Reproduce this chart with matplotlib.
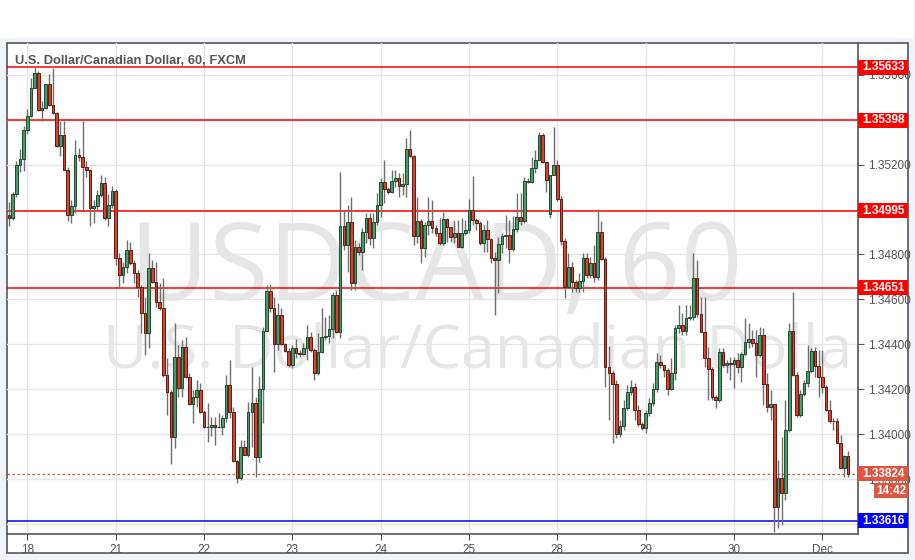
import numpy as np
import matplotlib
matplotlib.use('Agg')
import matplotlib.pyplot as plt
from matplotlib.patches import Rectangle
from matplotlib.transforms import blended_transform_factory

# ── DATA: USD/CAD hourly candles, first candle = Nov 17 19:00 ────────────────
opens = [
    1.34976, 1.34961, 1.35067, 1.35199, 1.35223,
    1.35354, 1.35417, 1.35539, 1.35608, 1.35442, 1.35451, 1.35557, 1.35465, 1.35429, 1.35283, 1.35332, 1.35177,
    1.34974, 1.35016, 1.35243, 1.35233, 1.35189, 1.35174, 1.35005, 1.35016, 1.35064, 1.35120, 1.34961, 1.35019,
    1.35082, 1.34783, 1.34708, 1.34745, 1.34820, 1.34763, 1.34719, 1.34656, 1.34538, 1.34452, 1.34738, 1.34678,
    1.34587, 1.34560, 1.34263, 1.34189, 1.33986, 1.34342, 1.34204, 1.34389, 1.34256, 1.34133, 1.34164, 1.34197,
    1.34100, 1.34030, 1.34033, 1.34041, 1.34033, 1.34030, 1.34070, 1.34219, 1.34100, 1.33882, 1.33804, 1.33944,
    1.33907, 1.34100, 1.34140, 1.33900, 1.34200, 1.34459, 1.34637, 1.34560, 1.34401, 1.34530, 1.34401, 1.34370,
    1.34308, 1.34382, 1.34363, 1.34355, 1.34382, 1.34431, 1.34375, 1.34271, 1.34364, 1.34434, 1.34437, 1.34469,
    1.34619, 1.34456, 1.34925, 1.34842, 1.34945, 1.34671, 1.34834, 1.34809, 1.34901, 1.34962, 1.34872, 1.34944,
    1.35020, 1.35121, 1.35091, 1.35076, 1.35127, 1.35139, 1.35106, 1.35113, 1.35269, 1.35239, 1.34883, 1.34949,
    1.34827, 1.34931, 1.34949, 1.34916, 1.34894, 1.34849, 1.34958, 1.34924, 1.34879, 1.34897, 1.34834, 1.34894,
    1.34909, 1.34998, 1.34953, 1.34941, 1.34849, 1.34909, 1.34867, 1.34783, 1.34775, 1.34846, 1.34882, 1.34887,
    1.34823, 1.34912, 1.34968, 1.34950, 1.35128, 1.35124, 1.35183, 1.35220, 1.35331, 1.35212, 1.34978, 1.35153,
    1.35198, 1.35045, 1.34861, 1.34656, 1.34743, 1.34678, 1.34649, 1.34682, 1.34783, 1.34708, 1.34760, 1.34701,
    1.34898, 1.34778, 1.34300, 1.34271, 1.34222, 1.34000, 1.34036, 1.34115, 1.34189, 1.34211, 1.34108, 1.34044,
    1.34026, 1.34093, 1.34137, 1.34200, 1.34322, 1.34308, 1.34286, 1.34200, 1.34271, 1.34471, 1.34486, 1.34460,
    1.34516, 1.34523, 1.34694, 1.34533, 1.34456, 1.34338, 1.34289, 1.34167, 1.34152, 1.34367, 1.34308, 1.34318,
    1.34311, 1.34330, 1.34298, 1.34357, 1.34411, 1.34422, 1.34404, 1.34352, 1.34441, 1.34223, 1.34120, 1.34134,
    1.33677, 1.33804, 1.33739, 1.34018, 1.34459, 1.34263, 1.34085, 1.34179, 1.34226, 1.34282, 1.34370, 1.34303,
    1.34253, 1.34211, 1.34108, 1.34060, 1.34058, 1.33962, 1.33851, 1.33903,
]
highs = [
    1.35035, 1.35079, 1.35218, 1.35270, 1.35373,
    1.35446, 1.35586, 1.35633, 1.35615, 1.35483, 1.35560, 1.35601, 1.35630, 1.35432, 1.35395, 1.35395, 1.35189,
    1.35042, 1.35311, 1.35274, 1.35395, 1.35218, 1.35182, 1.35042, 1.35086, 1.35152, 1.35145, 1.35071, 1.35104,
    1.35091, 1.34805, 1.34767, 1.34864, 1.34856, 1.34775, 1.34731, 1.34664, 1.34612, 1.34807, 1.34775, 1.34767,
    1.34671, 1.34694, 1.34338, 1.34196, 1.34493, 1.34397, 1.34419, 1.34434, 1.34271, 1.34197, 1.34241, 1.34226,
    1.34108, 1.34137, 1.34078, 1.34078, 1.34093, 1.34085, 1.34263, 1.34330, 1.34122, 1.33886, 1.33974, 1.33974,
    1.34144, 1.34300, 1.34167, 1.34259, 1.34478, 1.34664, 1.34668, 1.34612, 1.34583, 1.34560, 1.34405, 1.34382,
    1.34397, 1.34422, 1.34374, 1.34404, 1.34486, 1.34456, 1.34382, 1.34449, 1.34560, 1.34523, 1.34530, 1.34634,
    1.34642, 1.35168, 1.35000, 1.35020, 1.35057, 1.34864, 1.34851, 1.34917, 1.34984, 1.34984, 1.34984, 1.35073,
    1.35139, 1.35220, 1.35099, 1.35176, 1.35176, 1.35161, 1.35161, 1.35317, 1.35354, 1.35242, 1.35057, 1.34956,
    1.34944, 1.35057, 1.35042, 1.34931, 1.34961, 1.34990, 1.34961, 1.34924, 1.34953, 1.34953, 1.34961, 1.34953,
    1.35049, 1.35150, 1.34961, 1.34949, 1.34931, 1.34953, 1.34872, 1.34811, 1.34879, 1.34894, 1.34975, 1.34953,
    1.34971, 1.35072, 1.35072, 1.35146, 1.35141, 1.35235, 1.35265, 1.35346, 1.35339, 1.35212, 1.35153, 1.35368,
    1.35220, 1.35060, 1.34872, 1.34805, 1.34767, 1.34686, 1.34716, 1.34805, 1.34805, 1.34790, 1.34842, 1.35002,
    1.34949, 1.34790, 1.34392, 1.34286, 1.34241, 1.34063, 1.34152, 1.34219, 1.34241, 1.34228, 1.34130, 1.34054,
    1.34108, 1.34161, 1.34228, 1.34360, 1.34352, 1.34308, 1.34293, 1.34338, 1.34486, 1.34575, 1.34538, 1.34575,
    1.34575, 1.34805, 1.34775, 1.34612, 1.34612, 1.34389, 1.34300, 1.34174, 1.34382, 1.34382, 1.34330, 1.34342,
    1.34345, 1.34360, 1.34367, 1.34516, 1.34493, 1.34463, 1.34463, 1.34478, 1.34471, 1.34271, 1.34197, 1.34134,
    1.33885, 1.33989, 1.34152, 1.34493, 1.34634, 1.34278, 1.34197, 1.34241, 1.34397, 1.34382, 1.34389, 1.34375,
    1.34375, 1.34219, 1.34152, 1.34071, 1.34071, 1.33996, 1.33907, 1.33925,
]
lows = [
    1.34925, 1.34954, 1.35057, 1.35167, 1.35170,
    1.35336, 1.35410, 1.35539, 1.35439, 1.35395, 1.35446, 1.35461, 1.35424, 1.35277, 1.35240, 1.35174, 1.34951,
    1.34939, 1.34983, 1.35218, 1.34991, 1.35145, 1.34925, 1.34939, 1.34998, 1.35057, 1.34954, 1.34925, 1.35005,
    1.34753, 1.34649, 1.34671, 1.34716, 1.34753, 1.34671, 1.34612, 1.34449, 1.34352, 1.34382, 1.34671, 1.34567,
    1.34553, 1.34256, 1.34085, 1.33867, 1.33937, 1.34167, 1.34167, 1.34249, 1.34130, 1.34048, 1.34122, 1.34093,
    1.34026, 1.33966, 1.33991, 1.33952, 1.34026, 1.33996, 1.34055, 1.34070, 1.33878, 1.33781, 1.33796, 1.33907,
    1.33900, 1.33944, 1.33811, 1.33877, 1.34048, 1.34459, 1.34545, 1.34278, 1.34375, 1.34397, 1.34367, 1.34300,
    1.34293, 1.34338, 1.34345, 1.34352, 1.34330, 1.34367, 1.34241, 1.34263, 1.34360, 1.34419, 1.34404, 1.34426,
    1.34449, 1.34426, 1.34820, 1.34723, 1.34642, 1.34642, 1.34798, 1.34731, 1.34851, 1.34842, 1.34829, 1.34931,
    1.34968, 1.35027, 1.35068, 1.35072, 1.35101, 1.35057, 1.35064, 1.35057, 1.35235, 1.34842, 1.34849, 1.34763,
    1.34790, 1.34887, 1.34894, 1.34883, 1.34842, 1.34842, 1.34856, 1.34856, 1.34849, 1.34834, 1.34827, 1.34887,
    1.34894, 1.34931, 1.34909, 1.34842, 1.34811, 1.34811, 1.34760, 1.34530, 1.34629, 1.34805, 1.34827, 1.34763,
    1.34816, 1.34900, 1.34931, 1.34938, 1.35117, 1.35116, 1.35161, 1.35215, 1.35206, 1.35079, 1.34961, 1.35153,
    1.35038, 1.34842, 1.34605, 1.34649, 1.34634, 1.34634, 1.34634, 1.34634, 1.34694, 1.34694, 1.34679, 1.34686,
    1.34775, 1.34211, 1.34063, 1.33961, 1.33982, 1.33987, 1.34019, 1.34108, 1.34174, 1.34063, 1.34036, 1.34019,
    1.34004, 1.34081, 1.34125, 1.34188, 1.34293, 1.34256, 1.34174, 1.34197, 1.34241, 1.34449, 1.34441, 1.34441,
    1.34508, 1.34508, 1.34523, 1.34456, 1.34300, 1.34152, 1.34152, 1.34115, 1.34144, 1.34300, 1.34271, 1.34241,
    1.34204, 1.34271, 1.34233, 1.34352, 1.34382, 1.34389, 1.34256, 1.34345, 1.34130, 1.34100, 1.34063, 1.33566,
    1.33581, 1.33596, 1.33707, 1.34008, 1.34259, 1.34078, 1.34078, 1.34170, 1.34211, 1.34271, 1.34256, 1.34167,
    1.34182, 1.34103, 1.34048, 1.34019, 1.33959, 1.33848, 1.33811, 1.33808,
]
closes = [
    1.34961, 1.35067, 1.35199, 1.35223, 1.35354,
    1.35417, 1.35539, 1.35608, 1.35442, 1.35451, 1.35557, 1.35465, 1.35429, 1.35283, 1.35332, 1.35177, 1.34974,
    1.35016, 1.35243, 1.35233, 1.35189, 1.35174, 1.35005, 1.35016, 1.35064, 1.35120, 1.34961, 1.35019, 1.35082,
    1.34783, 1.34708, 1.34745, 1.34820, 1.34763, 1.34719, 1.34656, 1.34538, 1.34452, 1.34738, 1.34678, 1.34587,
    1.34560, 1.34263, 1.34189, 1.33986, 1.34342, 1.34204, 1.34389, 1.34256, 1.34133, 1.34164, 1.34197, 1.34100,
    1.34030, 1.34033, 1.34041, 1.34033, 1.34030, 1.34070, 1.34219, 1.34100, 1.33882, 1.33804, 1.33944, 1.33907,
    1.34100, 1.34140, 1.33900, 1.34200, 1.34459, 1.34637, 1.34560, 1.34401, 1.34530, 1.34401, 1.34370, 1.34308,
    1.34382, 1.34363, 1.34355, 1.34382, 1.34431, 1.34375, 1.34271, 1.34364, 1.34434, 1.34437, 1.34469, 1.34619,
    1.34456, 1.34925, 1.34842, 1.34945, 1.34671, 1.34834, 1.34809, 1.34901, 1.34962, 1.34872, 1.34944, 1.35020,
    1.35121, 1.35091, 1.35076, 1.35127, 1.35139, 1.35106, 1.35113, 1.35269, 1.35239, 1.34883, 1.34949, 1.34827,
    1.34931, 1.34949, 1.34916, 1.34894, 1.34849, 1.34958, 1.34924, 1.34879, 1.34897, 1.34834, 1.34894, 1.34909,
    1.34998, 1.34953, 1.34941, 1.34849, 1.34909, 1.34867, 1.34783, 1.34775, 1.34846, 1.34882, 1.34887, 1.34823,
    1.34912, 1.34968, 1.34950, 1.35128, 1.35124, 1.35183, 1.35220, 1.35331, 1.35212, 1.35131, 1.35153, 1.35198,
    1.35045, 1.34861, 1.34656, 1.34743, 1.34678, 1.34649, 1.34682, 1.34783, 1.34708, 1.34760, 1.34701, 1.34898,
    1.34778, 1.34300, 1.34271, 1.34222, 1.34000, 1.34036, 1.34115, 1.34189, 1.34211, 1.34108, 1.34044, 1.34026,
    1.34093, 1.34137, 1.34200, 1.34322, 1.34308, 1.34286, 1.34200, 1.34271, 1.34471, 1.34486, 1.34460, 1.34516,
    1.34523, 1.34694, 1.34533, 1.34456, 1.34338, 1.34289, 1.34167, 1.34152, 1.34367, 1.34308, 1.34318, 1.34311,
    1.34330, 1.34298, 1.34357, 1.34411, 1.34422, 1.34404, 1.34352, 1.34441, 1.34223, 1.34120, 1.34134, 1.33677,
    1.33804, 1.33739, 1.34018, 1.34459, 1.34263, 1.34085, 1.34179, 1.34226, 1.34282, 1.34370, 1.34303, 1.34253,
    1.34211, 1.34108, 1.34060, 1.34058, 1.33962, 1.33851, 1.33903, 1.33824,
]

day_ticks = [0, 24, 48, 72, 96, 120, 144, 168, 192, 216]
day_labels = ['18', '21', '22', '23', '24', '25', '28', '29', '30', 'Dec']

price_ticks = [1.356, 1.352, 1.348, 1.346, 1.344, 1.342, 1.340, 1.338]
grid_levels = [1.336, 1.338, 1.340, 1.342, 1.344, 1.346, 1.348, 1.350, 1.352, 1.354, 1.356]

resistance = [1.35633, 1.35398, 1.34995, 1.34651]
support = 1.33616
last_price = 1.33824
countdown = '14:42'

# ── FIGURE ───────────────────────────────────────────────────────────────────
W, H = 915, 560
fig = plt.figure(figsize=(W / 100, H / 100), dpi=100, facecolor='#f0f3f8')

# white strip on top and white chart frame
fig.add_artist(Rectangle((0, 1 - 38 / H), 913 / W, 38 / H, transform=fig.transFigure,
                         fc='white', ec='none', zorder=-2))
fig.add_artist(Rectangle((7 / W, 7 / H), 901 / W, 510 / H, transform=fig.transFigure,
                         fc='white', ec='#555555', lw=1.2, zorder=-1))

ax = fig.add_axes([7 / W, 1 - 534 / H, 851 / W, 491 / H])
ax.set_facecolor('none')

o = np.array(opens); h = np.array(highs); l = np.array(lows); c = np.array(closes)
x = np.arange(-5, -5 + len(c))

ax.set_xlim(-5.52, 225.7)
ax.set_ylim(1.33556, 1.35741)

# grid
for p in grid_levels:
    ax.axhline(p, color='#e6e6e6', lw=1, zorder=1)
for t in day_ticks:
    ax.axvline(t, color='#e6e6e6', lw=1, zorder=1)

# watermark
ax.text(0.1445, 0.476, 'USDCAD, 60', transform=ax.transAxes, fontsize=78,
        family=['Open Sans', 'DejaVu Sans'], color='#e6e6e6', ha='left',
        va='baseline', zorder=0.5, clip_on=True)
ax.text(0.1128, 0.340, 'U.S. Dollar/Canadian Dollar', transform=ax.transAxes,
        fontsize=44, family=['Open Sans', 'DejaVu Sans'], color='#e6e6e6',
        ha='left', va='baseline', zorder=0.5, clip_on=True)

# title
ax.text(0.0094, 0.957, 'U.S. Dollar/Canadian Dollar, 60, FXCM', transform=ax.transAxes,
        fontsize=9.3, family='Liberation Sans', fontweight='bold', color='#555555',
        ha='left', va='baseline', zorder=6)

# horizontal levels
for p in resistance:
    ax.axhline(p, color='#ff0000', lw=1.1, zorder=1.5)
ax.axhline(support, color='#0000ff', lw=1.1, zorder=1.5)
ax.axhline(last_price, color='#d9553e', lw=0.9, ls=(0, (2, 2)), zorder=1.5)

# candles
up = c >= o
ax.vlines(x, l, h, color='#6e6e6e', lw=1, zorder=2)
body_lo = np.minimum(o, c)
body_h = np.maximum(np.abs(c - o), 0.00003)
ax.bar(x, body_h, bottom=body_lo, width=0.72,
       color=np.where(up, '#4a9a6c', '#d9412e'),
       edgecolor=np.where(up, '#1e4a30', '#5a1e14'), linewidth=0.7, zorder=3)

# axes styling
ax.yaxis.tick_right()
ax.set_yticks(price_ticks)
ax.set_yticklabels(['%.5f' % v for v in price_ticks])
ax.set_xticks(day_ticks)
ax.set_xticklabels(day_labels)
ax.tick_params(axis='y', direction='out', length=4, color='#555555',
               labelcolor='#555555', labelsize=8.5, pad=3)
ax.tick_params(axis='x', direction='out', length=4, color='#555555',
               labelcolor='#555555', labelsize=8.5, pad=3)
for lab in ax.get_xticklabels() + ax.get_yticklabels():
    lab.set_family('Liberation Sans')
for s in ['left', 'top']:
    ax.spines[s].set_visible(False)
for s in ['right', 'bottom']:
    ax.spines[s].set_color('#555555')
    ax.spines[s].set_linewidth(1.2)

# price labels on the right scale
tr = blended_transform_factory(ax.transAxes, ax.transData)
px = 1 / 22472.0
bw = 50 / 851.0
bh = 15 * px

def price_tag(p, color, text=None, x0=1.0, w=bw):
    ax.add_patch(Rectangle((x0, p - bh / 2), w, bh, transform=tr, fc=color,
                           ec='none', clip_on=False, zorder=10))
    ax.text(x0 + w / 2, p, text if text else '%.5f' % p, transform=tr, color='white',
            fontsize=8.5, family='Liberation Sans', fontweight='bold',
            ha='center', va='center', clip_on=False, zorder=11)

for p in resistance:
    price_tag(p, '#ff0000')
price_tag(support, '#0000ff')
price_tag(last_price, '#df5540')
price_tag(last_price - 17 * px, '#df5540', countdown, x0=1.0 + 16 / 851.0, w=34 / 851.0)

plt.savefig('out.png', dpi=100, facecolor=fig.get_facecolor())
